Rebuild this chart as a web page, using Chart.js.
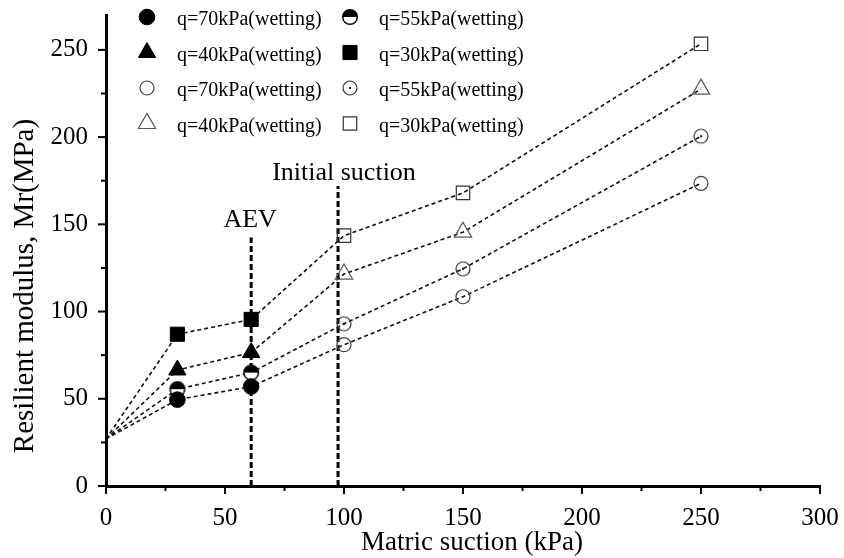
<!DOCTYPE html>
<html>
<head>
<meta charset="utf-8">
<script src="https://cdn.jsdelivr.net/npm/chart.js@4.4.1/dist/chart.umd.min.js"></script>
<style>
  html, body { margin: 0; padding: 0; background: #fff; }
  #wrap { width: 844px; height: 558px; }
</style>
</head>
<body>
<div id="wrap"><canvas id="mrChart" width="844" height="558"></canvas></div>
<script>
// data
const suction = [0, 30, 61, 100, 150, 250];
const mr70 = [27, 49.5, 57, 81, 108.5, 173.5];
const mr55 = [27, 55.5, 65, 93, 124.5, 200.5];
const mr40 = [27, 66.5, 76.5, 121.5, 145.5, 227.5];
const mr30 = [27, 87, 95.5, 143.5, 168, 253.5];
const filledIdx = [1, 2];
const openIdx = [3, 4, 5];
const aevSuction = 61, aevTop = 142.5;
const initSuction = 97.5, initTop = 172;
const legendLabels = ['q=70kPa(wetting)', 'q=55kPa(wetting)', 'q=40kPa(wetting)', 'q=30kPa(wetting)',
                      'q=70kPa(wetting)', 'q=55kPa(wetting)', 'q=40kPa(wetting)', 'q=30kPa(wetting)'];
const xTicks = [0, 50, 100, 150, 200, 250, 300];
const yTicks = [0, 50, 100, 150, 200, 250];
const xTitle = 'Matric suction (kPa)';
const yTitle = 'Resilient modulus, Mr(MPa)';

const FONT = "'Liberation Serif', 'Times New Roman', serif";

// custom marker glyphs
function halfCircle() {
    const c = document.createElement('canvas');
    c.width = 18; c.height = 18;
    const g = c.getContext('2d');
    g.beginPath(); g.arc(9, 9, 7.3, 0, Math.PI * 2); g.fillStyle = '#fff'; g.fill();
    g.beginPath(); g.arc(9, 9, 7.3, Math.PI, Math.PI * 2); g.closePath(); g.fillStyle = '#000'; g.fill();
    g.beginPath(); g.arc(9, 9, 7.3, 0, Math.PI * 2); g.lineWidth = 1.5; g.strokeStyle = '#000'; g.stroke();
    return c;
}
function dotCircle() {
    const c = document.createElement('canvas');
    c.width = 18; c.height = 18;
    const g = c.getContext('2d');
    g.beginPath(); g.arc(9, 9, 7, 0, Math.PI * 2); g.lineWidth = 1.2; g.strokeStyle = '#333'; g.stroke();
    g.beginPath(); g.arc(9, 9, 1.2, 0, Math.PI * 2); g.fillStyle = '#222'; g.fill();
    return c;
}

const pts = (ys, idx) => idx.map(i => ({ x: suction[i], y: ys[i] }));
const line = ys => ({
    type: 'line', data: suction.map((s, i) => ({ x: s, y: ys[i] })),
    borderColor: '#111', borderWidth: 1.6, borderDash: [4, 3], pointRadius: 0, order: 3
});
const vline = (x, top) => ({
    type: 'line', data: [{ x: x, y: 0 }, { x: x, y: top }],
    borderColor: '#000', borderWidth: 3, borderDash: [6, 3], pointRadius: 0, order: 3
});

// marker styles, in legend order
const markers = [
    { ys: mr70, idx: filledIdx, style: 'circle', r: 7.8, fill: '#000', stroke: '#000', bw: 1 },
    { ys: mr55, idx: filledIdx, style: halfCircle(), r: 8, fill: '#000', stroke: '#000', bw: 0 },
    { ys: mr40, idx: filledIdx, style: 'triangle', r: 10, fill: '#000', stroke: '#000', bw: 1 },
    { ys: mr30, idx: filledIdx, style: 'rect', r: 10, fill: '#000', stroke: '#000', bw: 1 },
    { ys: mr70, idx: openIdx, style: 'circle', r: 7, fill: 'rgba(0,0,0,0)', stroke: '#444', bw: 1.2 },
    { ys: mr55, idx: openIdx, style: dotCircle(), r: 8, fill: 'rgba(0,0,0,0)', stroke: '#333', bw: 0 },
    { ys: mr40, idx: openIdx, style: 'triangle', r: 10, fill: 'rgba(0,0,0,0)', stroke: '#555', bw: 1.2 },
    { ys: mr30, idx: openIdx, style: 'rect', r: 9.5, fill: 'rgba(0,0,0,0)', stroke: '#333', bw: 1.2 }
];

const datasets = [line(mr70), line(mr55), line(mr40), line(mr30),
                  vline(aevSuction, aevTop), vline(initSuction, initTop)];
markers.forEach(m => datasets.push({
    type: 'scatter', data: pts(m.ys, m.idx), showLine: false,
    pointStyle: m.style, pointRadius: m.r, pointHoverRadius: m.r,
    pointBackgroundColor: m.fill, pointBorderColor: m.stroke, pointBorderWidth: m.bw, order: 1
}));

// minor/major tick marks, axis titles, labels and legend
const decor = {
    id: 'decor',
    afterDraw(chart) {
        const ctx = chart.ctx, xs = chart.scales.x, ys = chart.scales.y, ca = chart.chartArea;
        ctx.save();
        ctx.strokeStyle = '#000';
        ctx.lineWidth = 2;
        for (let v = 0; v <= 300; v += 25) {
            const px = xs.getPixelForValue(v), len = v % 50 ? 5 : 8;
            ctx.beginPath(); ctx.moveTo(px, ca.bottom); ctx.lineTo(px, ca.bottom + len); ctx.stroke();
        }
        for (let v = 0; v <= 250; v += 25) {
            const py = ys.getPixelForValue(v), len = v % 50 ? 5 : 8;
            ctx.beginPath(); ctx.moveTo(ca.left - len, py); ctx.lineTo(ca.left, py); ctx.stroke();
        }

        ctx.fillStyle = '#000';
        ctx.textAlign = 'center';
        ctx.textBaseline = 'middle';

        // axis titles
        ctx.font = '27px ' + FONT;
        ctx.fillText(xTitle, 472, 543);
        ctx.save();
        ctx.translate(25, 286);
        ctx.rotate(-Math.PI / 2);
        ctx.font = '29px ' + FONT;
        ctx.fillText(yTitle, 0, 0);
        ctx.restore();

        // annotations
        ctx.font = '26px ' + FONT;
        ctx.fillText('AEV', xs.getPixelForValue(aevSuction) - 1, ys.getPixelForValue(152.5));
        ctx.fillText('Initial suction', xs.getPixelForValue(100), ys.getPixelForValue(179.5));

        // legend, two columns
        ctx.font = '20px ' + FONT;
        ctx.textAlign = 'left';
        markers.forEach((m, i) => {
            const col = i % 2, row = Math.floor(i / 2);
            const mx = col ? 350 : 147, my = 17 + row * 35.5;
            ctx.fillStyle = m.fill;
            ctx.strokeStyle = m.stroke;
            ctx.lineWidth = m.bw;
            Chart.helpers.drawPoint(ctx, { pointStyle: m.style, radius: m.r, rotation: 0, borderWidth: m.bw }, mx, my);
            ctx.fillStyle = '#000';
            ctx.fillText(legendLabels[i], col ? 379 : 177, my + 3);
        });
        ctx.restore();
    }
};

new Chart(document.getElementById('mrChart'), {
    type: 'scatter',
    data: { datasets: datasets },
    plugins: [decor],
    options: {
        responsive: false,
        animation: false,
        layout: { padding: { left: 10, top: 15, right: 24, bottom: 0 } },
        plugins: { legend: { display: false }, tooltip: { enabled: false } },
        scales: {
            x: {
                type: 'linear', min: 0, max: 300,
                afterFit: s => { s.height = 72; s.paddingLeft = 0; s.paddingRight = 0; },
                afterBuildTicks: s => { s.ticks = xTicks.map(v => ({ value: v })); },
                grid: { display: false, drawTicks: false },
                border: { display: true, color: '#000', width: 3 },
                ticks: { color: '#000', padding: 17, font: { family: FONT, size: 25 } }
            },
            y: {
                type: 'linear', min: 0, max: 270,
                afterFit: s => { s.width = 96; s.paddingTop = 0; s.paddingBottom = 0; },
                afterBuildTicks: s => { s.ticks = yTicks.map(v => ({ value: v })); },
                grid: { display: false, drawTicks: false },
                border: { display: true, color: '#000', width: 3 },
                ticks: { color: '#000', padding: 18, font: { family: FONT, size: 25 } }
            }
        }
    }
});
</script>
</body>
</html>
